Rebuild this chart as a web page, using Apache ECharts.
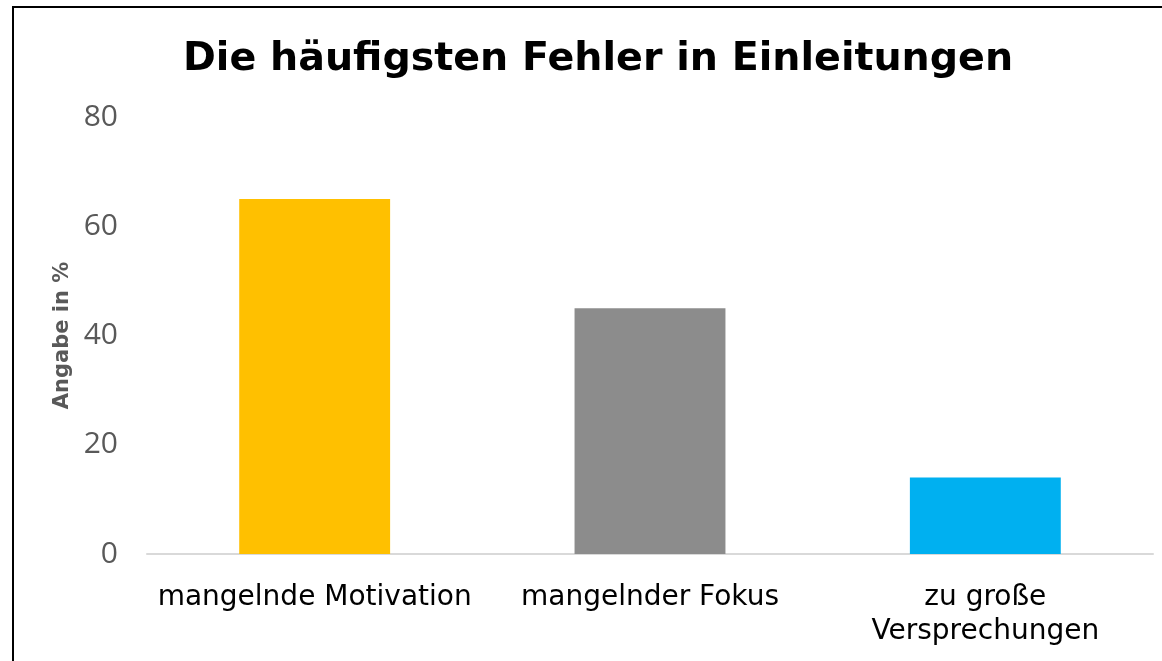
<!DOCTYPE html>
<html><head><meta charset="utf-8">
<script src="https://cdn.jsdelivr.net/npm/echarts@6/dist/echarts.min.js"></script>
<style>
html,body{margin:0;padding:0;background:#fff;}
#c{width:1162px;height:661px;position:relative;}
#frame{position:absolute;left:12px;top:6px;width:1170px;height:700px;border-left:2px solid #000;border-top:2px solid #000;pointer-events:none;}
</style></head>
<body>
<div style="position:relative;width:1162px;height:661px;overflow:hidden;">
<div id="c"></div><div id="frame"></div></div>
<script>
const titleText = 'Die häufigsten Fehler in Einleitungen';
const categories = ['mangelnde Motivation', 'mangelnder Fokus', 'zu große\nVersprechungen'];
const values = [65, 45, 14];
const barColors = ['#FFC000', '#8C8C8C', '#00B0F0'];
const yTicks = [0, 20, 40, 60, 80];
const yName = 'Angabe in %';

const chart = echarts.init(document.getElementById('c'));
chart.setOption({
  animation: false,
  title: {text: titleText, left: 178, top: 35, textStyle: {fontFamily: 'DejaVu Sans', fontWeight: 'bold', fontSize: 39.6, color: '#000'}},
  grid: {left: 147, right: 9, top: 117, bottom: 107},
  xAxis: {type: 'category', data: categories,
    axisLine: {lineStyle: {color: '#D9D9D9', width: 2}}, axisTick: {show: false},
    axisLabel: {interval: 0, fontFamily: 'DejaVu Sans', fontSize: 28, color: '#000', margin: 27, lineHeight: 34}},
  yAxis: {type: 'value', min: yTicks[0], max: yTicks[yTicks.length-1], interval: 20,
    name: yName, nameLocation: 'middle', nameGap: 74,
    nameTextStyle: {fontFamily: 'DejaVu Sans', fontWeight: 'bold', fontSize: 21, color: '#595959'},
    axisLine: {show: false}, axisTick: {show: false}, splitLine: {show: false},
    axisLabel: {fontFamily: 'Open Sans', fontSize: 30, color: '#595959', margin: 29}},
  series: [{type: 'bar', barWidth: '45%',
    data: values.map((v, i) => ({value: v, itemStyle: {color: barColors[i]}}))}]
});
</script>
</body></html>
